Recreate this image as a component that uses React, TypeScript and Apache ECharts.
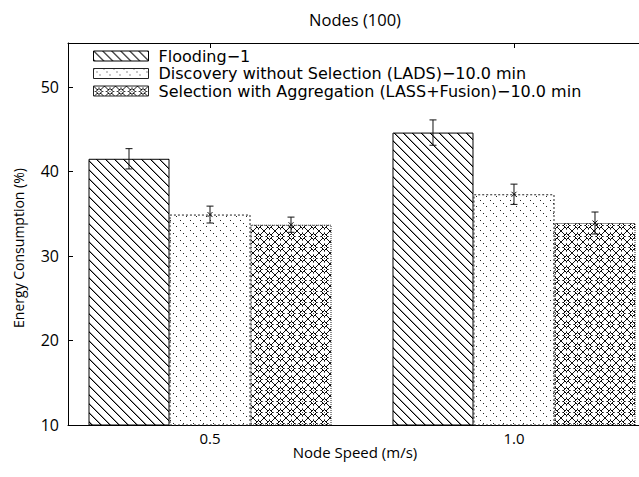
import React, { useEffect, useRef } from "react";
import * as echarts from "echarts";

const speeds = [0.5, 1.0];
const seriesNames = [
  "Flooding−1",
  "Discovery without Selection (LADS)−10.0 min",
  "Selection with Aggregation (LASS+Fusion)−10.0 min",
];
const flooding = [41.5, 44.6];
const floodingErr = [1.2, 1.5];
const discovery = [34.9, 37.3];
const discoveryErr = [1.0, 1.2];
const selection = [33.7, 33.9];
const selectionErr = [0.9, 1.3];
const showMarker = [false, true, true];
const yTicks = [10, 20, 30, 40, 50];
const titleText = "Nodes (100)";
const xName = "Node Speed (m/s)";
const yName = "Energy Consumption (%)";

const FONT = "Open Sans";
const LEGEND_FONT = "DejaVu Sans";
const BAR_W = 81;

function makeCanvas(size: number, draw: (ctx: CanvasRenderingContext2D) => void) {
  const c = document.createElement("canvas");
  c.width = size;
  c.height = size;
  const ctx = c.getContext("2d")!;
  ctx.fillStyle = "#fff";
  ctx.fillRect(0, 0, size, size);
  draw(ctx);
  return c;
}

function patterns() {
  const p1 = makeCanvas(9, (ctx) => {
    for (let i = 0; i < 9; i++) {
      ctx.fillStyle = "#000";
      ctx.fillRect(i, i, 1, 1);
      ctx.fillStyle = "#999";
      ctx.fillRect((i + 1) % 9, i, 1, 1);
    }
  });
  const p2 = makeCanvas(10, (ctx) => {
    ctx.fillStyle = "#222";
    [0, 3, 6].forEach((i) => ctx.fillRect(i, i, 1, 1));
  });
  const p3 = makeCanvas(11, (ctx) => {
    const c = 5;
    for (let i = 0; i < 11; i++) {
      const pts = [
        [i, i],
        [10 - i, i],
      ];
      pts.forEach(([x, y]) => {
        const d = Math.abs(x - c) + Math.abs(y - c);
        if (d >= 3) {
          ctx.fillStyle = "#111";
          ctx.fillRect(x, y, 1, 1);
        }
      });
    }
    ctx.fillStyle = "#000";
    for (let x = 0; x < 11; x++) {
      for (let y = 0; y < 11; y++) {
        const d = Math.abs(x - c) + Math.abs(y - c);
        if (d === 3) ctx.fillRect(x, y, 1, 1);
        if (d === 4 && (x === c || y === c)) {
          ctx.fillStyle = "#666";
          ctx.fillRect(x, y, 1, 1);
          ctx.fillStyle = "#000";
        }
      }
    }
    ctx.fillStyle = "#444";
    ctx.fillRect(c, c, 1, 1);
  });
  const mk = (c: HTMLCanvasElement, s: number) => ({
    image: c,
    repeat: "repeat",
    imageWidth: s,
    imageHeight: s,
  });
  return [mk(p1, 9), mk(p2, 10), mk(p3, 11)];
}

export default function App() {
  const ref = useRef<HTMLDivElement>(null);
  useEffect(() => {
    if (!ref.current) return;
    const chart = echarts.init(ref.current, null, { renderer: "svg" });
    const pats = patterns();
    const means = [flooding, discovery, selection];
    const errs = [floodingErr, discoveryErr, selectionErr];
    const borders = [
      { borderColor: "#000", borderWidth: 1, borderType: "solid" },
      { borderColor: "#222", borderWidth: 1, borderType: [2, 2] },
      { borderColor: "#222", borderWidth: 1, borderType: [1, 1] },
    ];
    const barSeries = seriesNames.map((name, k) => ({
      type: "bar",
      name,
      data: speeds.map((s, i) => [s, means[k][i]]),
      barWidth: BAR_W,
      barGap: "0%",
      clip: true,
      itemStyle: { color: pats[k], ...borders[k] },
      emphasis: { disabled: true },
      z: 2,
    }));
    const errSeries = seriesNames.map((name, k) => ({
      type: "custom",
      name: "err" + k,
      data: speeds.map((s, i) => [s, means[k][i], errs[k][i]]),
      z: 5,
      renderItem: (params: any, api: any) => {
        const x = api.value(0);
        const m = api.value(1);
        const e = api.value(2);
        const c = api.coord([x, m]);
        const t = api.coord([x, m + e]);
        const b = api.coord([x, m - e]);
        const cx = c[0] + (k - 1) * BAR_W;
        const st = { stroke: "#111", lineWidth: 1 };
        const children: any[] = [
          { type: "line", shape: { x1: cx, y1: t[1], x2: cx, y2: b[1] }, style: st },
          { type: "line", shape: { x1: cx - 3.5, y1: t[1], x2: cx + 3.5, y2: t[1] }, style: st },
          { type: "line", shape: { x1: cx - 3.5, y1: b[1], x2: cx + 3.5, y2: b[1] }, style: st },
        ];
        if (showMarker[k]) {
          children.push(
            { type: "line", shape: { x1: cx - 2.5, y1: c[1] - 2.5, x2: cx + 2.5, y2: c[1] + 2.5 }, style: st },
            { type: "line", shape: { x1: cx - 2.5, y1: c[1] + 2.5, x2: cx + 2.5, y2: c[1] - 2.5 }, style: st }
          );
        }
        return { type: "group", children };
      },
    }));
    const axisLine = { show: true, lineStyle: { color: "#000", width: 1 } };
    const tick = (vals: number[]) => ({
      show: true,
      inside: true,
      length: 5,
      customValues: vals,
      lineStyle: { color: "#000" },
    });
    const option: any = {
      animation: false,
      backgroundColor: "#fff",
      textStyle: { fontFamily: FONT },
      grid: { left: 68, top: 43, bottom: 52, right: 24, containLabel: false },
      xAxis: [
        {
          type: "value",
          min: 0.2664,
          max: 1.2336,
          position: "bottom",
          axisLine,
          axisTick: tick(speeds),
          splitLine: { show: false },
          axisLabel: {
            customValues: speeds,
            formatter: (v: number) => v.toFixed(1),
            color: "#000",
            fontSize: 15,
            fontFamily: FONT,
            margin: 5,
          },
        },
        {
          type: "value",
          min: 0.2664,
          max: 1.2336,
          position: "top",
          axisLine,
          axisTick: tick(speeds),
          splitLine: { show: false },
          axisLabel: { show: false },
        },
      ],
      yAxis: [
        {
          type: "value",
          min: 10,
          max: 55.2,
          position: "left",
          axisLine,
          axisTick: tick(yTicks),
          splitLine: { show: false },
          axisLabel: {
            customValues: yTicks,
            color: "#000",
            fontSize: 16,
            fontFamily: FONT,
            margin: 9,
          },
        },
        {
          type: "value",
          min: 10,
          max: 55.2,
          position: "right",
          axisLine,
          axisTick: tick(yTicks),
          splitLine: { show: false },
          axisLabel: { show: false },
        },
      ],
      legend: {
        data: seriesNames,
        orient: "vertical",
        left: 93,
        top: 48,
        padding: 0,
        itemWidth: 55,
        itemHeight: 10,
        itemGap: 1.5,
        icon: "rect",
        selectedMode: false,
        itemStyle: { borderWidth: 1 },
        textStyle: {
          color: "#000",
          fontSize: 16,
          fontFamily: LEGEND_FONT,
          padding: [0, 0, 0, 5],
        },
      },
      graphic: [
        {
          type: "text",
          x: 355,
          y: 19,
          style: {
            text: titleText,
            fontSize: 16.5,
            fontFamily: FONT,
            fill: "#000",
            align: "center",
            verticalAlign: "middle",
          },
        },
        {
          type: "text",
          x: 355,
          y: 452,
          style: {
            text: xName,
            fontSize: 15,
            fontFamily: FONT,
            fill: "#000",
            align: "center",
            verticalAlign: "middle",
          },
        },
        {
          type: "text",
          x: 18,
          y: 248,
          rotation: Math.PI / 2,
          style: {
            text: yName,
            fontSize: 14,
            fontFamily: FONT,
            fill: "#000",
            align: "center",
            verticalAlign: "middle",
          },
        },
      ],
      series: [...barSeries, ...errSeries],
    };
    chart.setOption(option);
    return () => chart.dispose();
  }, []);
  return (
    <div
      style={{
        position: "fixed",
        left: 0,
        top: 0,
        width: 639,
        height: 477,
        overflow: "hidden",
        background: "#fff",
      }}
    >
      <div ref={ref} style={{ width: 680, height: 477 }} />
    </div>
  );
}
